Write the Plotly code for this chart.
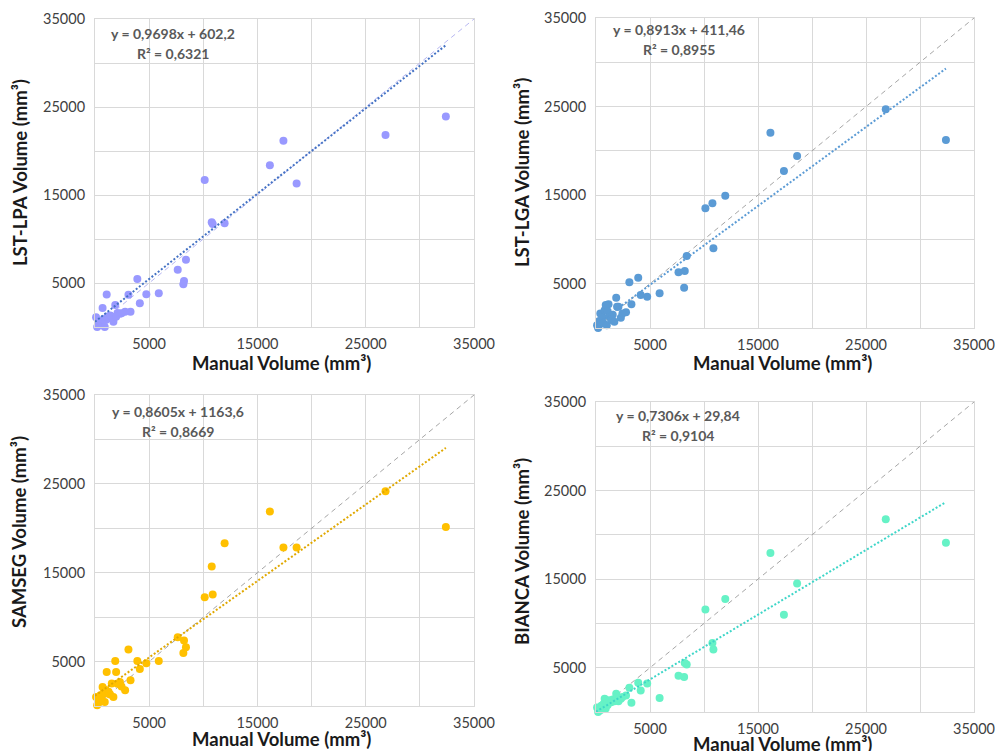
import plotly.graph_objects as go

# ---------------- data ----------------
manual = [32400, 26830, 18620, 17400, 16150, 11970, 10870, 10780, 10130, 8400,
          8220, 8160, 7640, 5890, 4740, 4140, 3910, 3090, 3280, 2780,
          2300, 2080, 1870, 1160,
          100, 200, 300, 400, 500, 600, 700, 800, 900, 1000,
          1080, 1250, 1400, 1550, 1700, 1950, 2450]

lst_lpa = [23930, 21810, 16320, 21160, 18370, 11800, 11700, 11900, 16700, 7650,
           5225, 4850, 6510, 3830, 3715, 2690, 5450, 3670, 1740, 1740,
           1500, 1600, 2500, 1200,
           1100, 0, 200, 300, 600, 400, 2150, 900, 0, 800,
           3700, 1000, 1300, 1170, 600, 1170, 1550]

lst_lga = [21225, 24690, 19420, 17720, 22050, 14940, 9000, 14080, 13510, 8130,
           6440, 4550, 6290, 3915, 3535, 3725, 5680, 5160, 2675, 1770,
           1160, 2400, 3420, 2675,
           300, 0, 800, 1650, 500, 1200, 530, 2000, 2600, 300,
           1900, 1280, 900, 1500, 700, 2400, 1650]

samseg = [20150, 24180, 17840, 17840, 21890, 18320, 12540, 15700, 12240, 6610,
          7360, 5970, 7735, 5070, 4810, 4170, 5070, 6350, 2900, 1770,
          2700, 2500, 5070, 1400,
          1000, 80, 300, 700, 1200, 900, 2150, 1500, 450, 1800,
          3830, 1600, 1300, 2520, 1000, 3830, 2200]

bianca = [19120, 21770, 14520, 10970, 17960, 12750, 7050, 7800, 11580, 5350,
          5540, 3950, 4100, 1570, 3230, 2440, 3300, 2740, 1040, 1870,
          1500, 1200, 2060, 1300,
          500, 0, 300, 200, 700, 600, 900, 1500, 400, 1000,
          800, 1300, 1100, 1400, 1200, 1600, 1700]

methods = ["LST-LPA", "LST-LGA", "SAMSEG", "BIANCA"]
slopes = [0.9698, 0.8913, 0.8605, 0.7306]
intercepts = [602.2, 411.46, 1163.6, 29.84]
eq_texts = ["y = 0,9698x + 602,2", "y = 0,8913x + 411,46",
            "y = 0,8605x + 1163,6", "y = 0,7306x + 29,84"]
r2_texts = ["R² = 0,6321", "R² = 0,8955", "R² = 0,8669", "R² = 0,9104"]

tick_vals = [0, 5000, 10000, 15000, 20000, 25000, 30000, 35000]
tick_text = ["", "5000", "", "15000", "", "25000", "", "35000"]
axis_max = 35000

# ---------------- styling ----------------
W, H = 995, 751
series = [lst_lpa, lst_lga, samseg, bianca]
marker_colors = ["#9999FF", "#5B9BD5", "#FFC000", "#66F2C6"]
trend_colors = ["#4472C4", "#5B9BD5", "#E0A800", "#3ED6C8"]
ident_colors = ["#B8B8F2", "#A6A6A6", "#A6A6A6", "#A6A6A6"]

# plot-area boxes in pixels: (left, right, top, bottom)
boxes = [(95, 474, 19, 327), (596, 974, 18, 328),
         (95, 474, 395, 706), (596, 974, 402, 712)]
eq_pos = [(173, 33), (679, 30), (178, 411), (678, 415)]
ytitle_pos = [(20, 173), (522, 173), (19, 532), (522, 552)]
xtitle_pos = [(281, 363), (782, 363), (281, 739), (782, 744)]

FONT = "Lato"
fig = go.Figure()
layout = dict(width=W, height=H, margin=dict(l=0, r=0, t=0, b=0, autoexpand=False),
              paper_bgcolor="white", plot_bgcolor="white", showlegend=False,
              font=dict(family=FONT, color="#404040"))
annotations = []


def note(px, py, text, size, color, angle=0):
    return dict(x=px / W, y=1 - py / H, xref="paper", yref="paper",
                xanchor="center", yanchor="middle", text=text, textangle=angle,
                showarrow=False, font=dict(size=size, color=color, family=FONT))


x_max = max(manual)
for i in range(4):
    sfx = "" if i == 0 else str(i + 1)
    xa, ya = "x" + sfx, "y" + sfx
    l, r, t, b = boxes[i]
    common = dict(range=[0, axis_max], tickvals=tick_vals, ticktext=tick_text,
                  showgrid=True, gridcolor="#D9D9D9", gridwidth=1,
                  zeroline=False, showline=True, linecolor="#D9D9D9",
                  mirror=True, ticks="", automargin=False,
                  ticklabeloverflow="allow",
                  tickfont=dict(size=14.5, color="#404040", family=FONT))
    layout["xaxis" + sfx] = dict(common, domain=[l / W, r / W], anchor=ya,
                                 ticklabelstandoff=4)
    layout["yaxis" + sfx] = dict(common, domain=[1 - b / H, 1 - t / H], anchor=xa,
                                 ticklabelstandoff=6)

    # identity line
    fig.add_trace(go.Scatter(x=[0, axis_max], y=[0, axis_max], mode="lines",
                             line=dict(color=ident_colors[i], width=1, dash="5px,4px"),
                             xaxis=xa, yaxis=ya, hoverinfo="skip"))
    # markers
    fig.add_trace(go.Scatter(x=manual, y=series[i], mode="markers",
                             marker=dict(color=marker_colors[i], size=8),
                             cliponaxis=False, xaxis=xa, yaxis=ya))
    # trend line
    tx = [0, x_max]
    ty = [slopes[i] * v + intercepts[i] for v in tx]
    fig.add_trace(go.Scatter(x=tx, y=ty, mode="lines",
                             line=dict(color=trend_colors[i], width=2, dash="2px,2px"),
                             xaxis=xa, yaxis=ya, hoverinfo="skip"))

    ex, ey = eq_pos[i]
    annotations.append(note(ex, ey, "<b>" + eq_texts[i] + "</b>", 14, "#595959"))
    annotations.append(note(ex, ey + 20, "<b>" + r2_texts[i] + "</b>", 14, "#595959"))
    yx, yy = ytitle_pos[i]
    annotations.append(note(yx, yy, "<b>" + methods[i] + " Volume (mm³)</b>", 18.5,
                            "#1a1a1a", angle=-90))
    xx, xy = xtitle_pos[i]
    annotations.append(note(xx, xy, "<b>Manual Volume (mm³)</b>", 18.5, "#1a1a1a"))

layout["annotations"] = annotations
fig.update_layout(**layout)
fig.write_html("out.html")
